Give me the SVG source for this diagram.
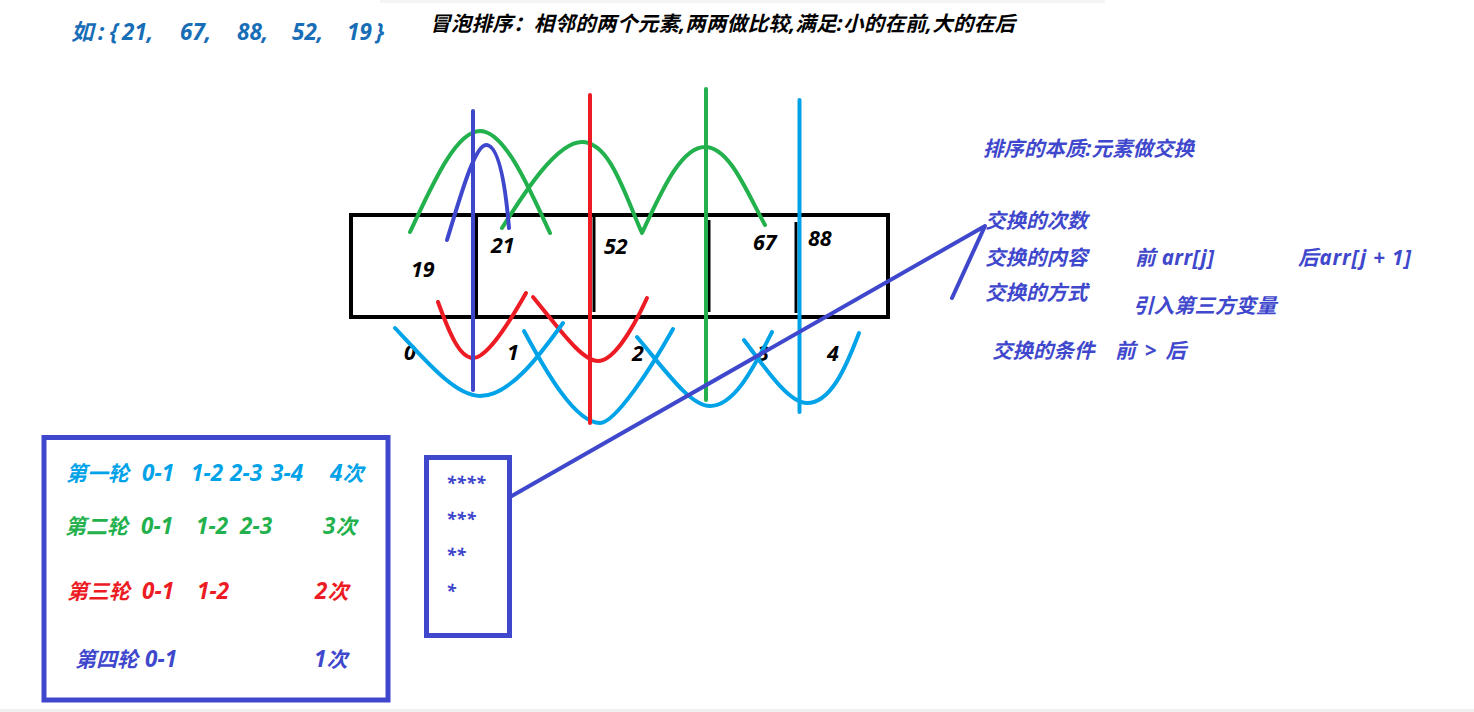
<svg xmlns="http://www.w3.org/2000/svg" width="1474" height="712" viewBox="0 0 1474 712">
<style>
text{font-family:"Noto Sans","Noto Sans CJK SC",sans-serif;font-weight:bold;font-style:italic}
.num{font-size:21.5px;fill:#000}
.v{fill:#3f48cc}
.t{font-size:20.5px}
.r{font-size:21px}
.d{font-size:22.5px}
.st{font-size:18px;fill:#3f48cc}
.c{fill:none;stroke-width:4;stroke-linecap:round;stroke-linejoin:round}
.g{stroke:#22b14c}.rd{stroke:#ed1c24}.lb{stroke:#00a2e8}.vb{stroke:#3f48cc}
.div{stroke:#000;stroke-width:3}
</style>
<rect x="0" y="0" width="1474" height="712" fill="#fff"/>
<rect x="380" y="0" width="725" height="3" fill="#f5f5f5"/>
<rect x="0" y="709" width="1474" height="3" fill="#f0f0f0"/>

<g id="title-array">
<text y="40" font-size="22.5" fill="#176db6"><tspan x="71">如</tspan><tspan x="98">:</tspan><tspan x="110">{</tspan><tspan x="122">21,</tspan><tspan x="180">67,</tspan><tspan x="237">88,</tspan><tspan x="292">52,</tspan><tspan x="347">19</tspan><tspan x="376">}</tspan></text>
</g>
<g id="title-bubble">
<text x="430" y="31" font-size="20.5" fill="#000" textLength="585" lengthAdjust="spacing">冒泡排序：相邻的两个元素,两两做比较,满足:小的在前,大的在后</text>
</g>

<g id="array-box">
<rect x="351" y="215" width="537" height="102" fill="none" stroke="#000" stroke-width="4"/>
<line class="div" x1="476.5" y1="215" x2="476.5" y2="317"/>
<line class="div" x1="594" y1="215" x2="594" y2="312"/>
<line class="div" x1="709" y1="220" x2="709" y2="312"/>
<line class="div" x1="796" y1="222" x2="796" y2="313"/>
<text class="num" x="411" y="277">19</text>
<text class="num" x="491" y="253">21</text>
<text class="num" x="604" y="254">52</text>
<text class="num" x="753" y="250">67</text>
<text class="num" x="808" y="246">88</text>
</g>

<g id="indices">
<text class="num" x="404" y="360">0</text>
<text class="num" x="507" y="360">1</text>
<text class="num" x="632" y="361">2</text>
<text class="num" x="757" y="361">3</text>
<text class="num" x="827" y="361">4</text>
</g>

<g id="annotations" class="v t">
<text x="983" y="156">排序的本质:元素做交换</text>
<text x="985" y="228">交换的次数</text>
<text x="985" y="265">交换的内容</text>
<text x="985" y="300">交换的方式</text>
<text x="1135" y="265" textLength="79" lengthAdjust="spacing">前 arr[j]</text>
<text x="1298" y="265" textLength="113" lengthAdjust="spacing">后arr[j + 1]</text>
<text x="1133" y="313">引入第三方变量</text>
<text x="992" y="358">交换的条件</text>
<text x="1115" y="358" textLength="71" lengthAdjust="spacing">前 &gt; 后</text>
</g>

<g id="rounds-box">
<rect x="44" y="437.5" width="344" height="262.5" fill="none" stroke="#3f48cc" stroke-width="5"/>
<text class="r" y="481" fill="#00a2e8"><tspan x="66">第一轮</tspan><tspan class="d" x="142">0-1</tspan><tspan class="d" x="191">1-2</tspan><tspan class="d" x="230">2-3</tspan><tspan class="d" x="271">3-4</tspan><tspan class="d" x="330">4</tspan><tspan>次</tspan></text>
<text class="r" y="534" fill="#22b14c"><tspan x="65">第二轮</tspan><tspan class="d" x="141">0-1</tspan><tspan class="d" x="196">1-2</tspan><tspan class="d" x="240">2-3</tspan><tspan class="d" x="323">3</tspan><tspan>次</tspan></text>
<text class="r" y="598.5" fill="#ed1c24"><tspan x="67">第三轮</tspan><tspan class="d" x="142">0-1</tspan><tspan class="d" x="197">1-2</tspan><tspan class="d" x="315">2</tspan><tspan>次</tspan></text>
<text class="r" y="667" fill="#3f48cc"><tspan x="75">第四轮</tspan><tspan class="d" x="145">0-1</tspan><tspan class="d" x="314">1</tspan><tspan>次</tspan></text>
</g>

<g id="stars-box">
<rect x="426.5" y="457.5" width="83" height="178" fill="none" stroke="#3f48cc" stroke-width="5"/>
<text class="st" x="446" y="489">****</text>
<text class="st" x="446" y="525">***</text>
<text class="st" x="446" y="561">**</text>
<text class="st" x="446" y="597">*</text>
</g>

<g id="connectors">
<path class="c g" d="M410,232 C430,190 455,131 480,131 C505,131 530,190 550,233"/>
<path class="c g" d="M502,228 C520,200 555,142 582,142 C610,142 625,195 642,233 C660,195 680,147 705,147 C730,147 748,195 765,225"/>
<path class="c vb" d="M447,240 C458,205 474,145 486,145 C498,145 505,180 509,228"/>
<path class="c rd" d="M438,302 C450,335 460,358 473,358 C486,358 505,330 526,293"/>
<path class="c rd" d="M533,297 C560,330 582,361 598,361 C612,361 630,335 647,298"/>
<path class="c lb" d="M395,328 C425,360 455,396 480,396 C510,396 540,355 563,323"/>
<path class="c lb" d="M524,331 C545,370 575,423 600,423 C615,423 650,370 673,329"/>
<path class="c lb" d="M637,337 C665,370 690,406 710,406 C735,406 755,365 772,332"/>
<path class="c lb" d="M744,340 C770,375 790,403 807,403 C830,403 845,370 859,333"/>
<line class="c vb" x1="473" y1="111" x2="473" y2="390"/>
<line class="c rd" x1="590" y1="95" x2="590" y2="423"/>
<line class="c g" x1="706" y1="89" x2="706" y2="400"/>
<line class="c lb" x1="799.5" y1="100" x2="799.5" y2="412"/>
<path class="c vb" stroke-width="4.5" d="M510,497 L985,226 L952,298"/>
</g>
</svg>
